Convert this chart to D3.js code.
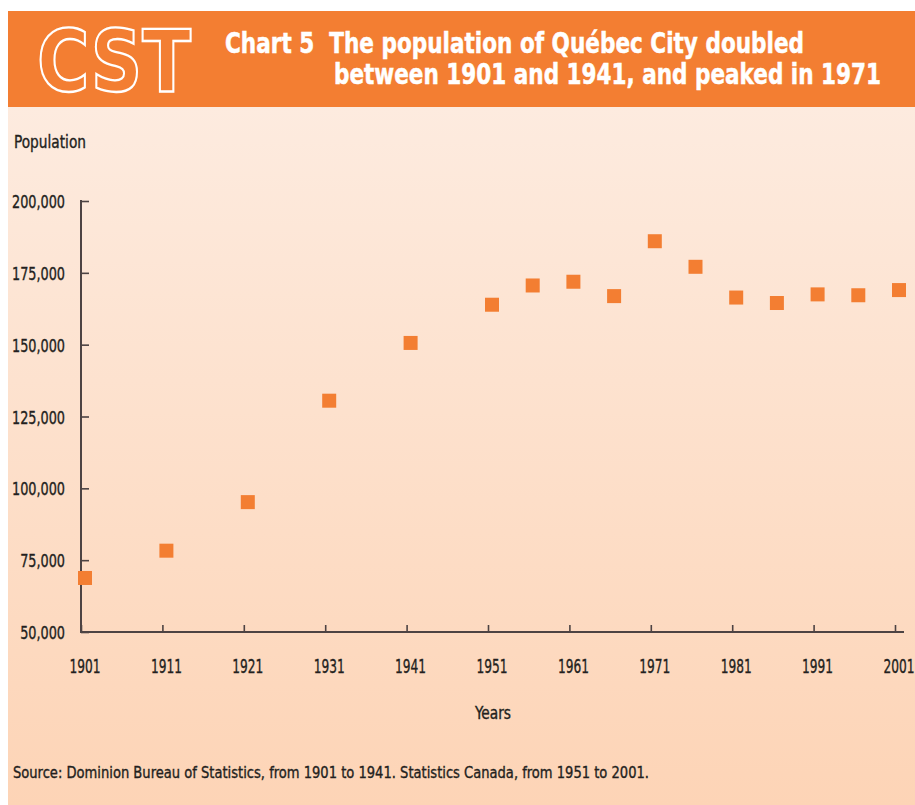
<!DOCTYPE html>
<html>
<head>
<meta charset="utf-8">
<script src="https://cdn.jsdelivr.net/npm/d3@7"></script>
<style>
	body { margin: 0; background: #fff; }
	svg text { font-family: "DejaVu Sans Condensed", "DejaVu Sans", sans-serif; fill: #231f20; }
	svg text.lab { stroke: #231f20; stroke-width: 0.35; }
</style>
</head>
<body>
<script>
const years = [1901, 1911, 1921, 1931, 1941, 1951, 1956, 1961, 1966, 1971, 1976, 1981, 1986, 1991, 1996, 2001];
const population = [68800, 78300, 95200, 130500, 150600, 163900, 170600, 171900, 166900, 186000, 177100, 166400, 164500, 167500, 167200, 169000];
const yTicks = [50000, 75000, 100000, 125000, 150000, 175000, 200000];
const xTicks = [1901, 1911, 1921, 1931, 1941, 1951, 1961, 1971, 1981, 1991, 2001];
const titleLines = ["Chart 5  The population of Québec City doubled", "between 1901 and 1941, and peaked in 1971"];
const sourceText = "Source: Dominion Bureau of Statistics, from 1901 to 1941. Statistics Canada, from 1951 to 2001.";

const W = 915, H = 805,
	orange = '#f37e32',
	axisColor = '#4d4343',
	markSize = 14,
	markShift = 4;

let svg = d3.select('body').append('svg')
	.attr('width', W)
	.attr('height', H);

// squeeze a text selection horizontally so the widest item hits `width`
function condense(sel, width) {
	let natural = 0;
	sel.each(function() { natural = Math.max(natural, this.getComputedTextLength()) });
	let k = width / natural;
	sel.each(function() {
		d3.select(this)
			.attr('textLength', this.getComputedTextLength() * k)
			.attr('lengthAdjust', 'spacingAndGlyphs');
	});
}

let defs = svg.append('defs');
let grad = defs.append('linearGradient')
	.attr('id', 'bg')
	.attr('x1', 0).attr('y1', 0).attr('x2', 0).attr('y2', 1);
grad.append('stop').attr('offset', '0%').attr('stop-color', '#fdebdf');
grad.append('stop').attr('offset', '100%').attr('stop-color', '#fdd4b6');

// panel + header
svg.append('rect')
	.attr('x', 8).attr('y', 107)
	.attr('width', W - 8).attr('height', H - 107)
	.attr('fill', 'url(#bg)');
svg.append('rect')
	.attr('x', 8).attr('y', 11)
	.attr('width', W - 8).attr('height', 96)
	.attr('fill', orange);

let logo = svg.append('text')
	.attr('x', 37).attr('y', 91)
	.attr('font-size', 86)
	.attr('font-weight', 'bold')
	.style('font-family', '"DejaVu Sans", sans-serif')
	.style('fill', orange)
	.style('stroke', '#fff')
	.style('stroke-width', 2.4)
	.text('CST');
condense(logo, 154);

let t1 = svg.append('text')
	.attr('x', 225).attr('y', 53)
	.attr('font-size', 29)
	.attr('font-weight', 'bold')
	.style('fill', '#fff')
	.style('stroke', '#fff')
	.style('stroke-width', 0.5)
	.style('white-space', 'pre')
	.text(titleLines[0]);
condense(t1, 579);
let t2 = svg.append('text')
	.attr('x', 334).attr('y', 84)
	.attr('font-size', 29)
	.attr('font-weight', 'bold')
	.style('fill', '#fff')
	.style('stroke', '#fff')
	.style('stroke-width', 0.5)
	.text(titleLines[1]);
condense(t2, 547);

// scales
let x = d3.scaleLinear().domain([1901, 2001]).range([81, 895]);
let y = d3.scaleLinear().domain([50000, 200000]).range([632, 201]);

let chart = svg.append('g');

let yAxis = chart.append('g')
	.attr('transform', 'translate(81,0)')
	.call(d3.axisRight(y).tickValues(yTicks).tickSize(8).tickFormat(''));
let xAxis = chart.append('g')
	.attr('transform', 'translate(0,632)')
	.call(d3.axisTop(x).tickValues(xTicks).tickSize(7).tickFormat(''));

[xAxis, yAxis].forEach(a => {
	a.select('.domain').attr('stroke', axisColor).attr('stroke-width', 2);
	a.selectAll('.tick line').attr('stroke', axisColor).attr('stroke-width', 1.6);
});
xAxis.select('.domain').attr('d', 'M80,0H' + (x(2001) + 9));
yAxis.select('.domain').attr('d', 'M0,' + (y(200000) - 1) + 'V' + 633);

let ylab = chart.selectAll('text.ylab')
	.data(yTicks)
	.enter().append('text')
	.attr('class', 'ylab lab')
	.attr('x', 65)
	.attr('y', d => y(d) + 7)
	.attr('text-anchor', 'end')
	.attr('font-size', 18)
	.text(d3.format(','));
condense(ylab, 53);

let xlab = chart.selectAll('text.xlab')
	.data(xTicks)
	.enter().append('text')
	.attr('class', 'xlab lab')
	.attr('x', d => x(d) + markShift)
	.attr('y', 673)
	.attr('text-anchor', 'middle')
	.attr('font-size', 20)
	.text(d => d);
condense(xlab, 31);

let popLab = chart.append('text')
	.attr('class', 'lab')
	.attr('x', 14).attr('y', 148)
	.attr('font-size', 17)
	.text('Population');
condense(popLab, 72);
let yrLab = chart.append('text')
	.attr('class', 'lab')
	.attr('x', 475).attr('y', 719)
	.attr('font-size', 17)
	.text('Years');
condense(yrLab, 36);

// points
chart.selectAll('rect.pt')
	.data(years)
	.enter().append('rect')
	.attr('class', 'pt')
	.attr('x', (d, i) => x(d) + markShift - markSize / 2)
	.attr('y', (d, i) => y(population[i]) - markSize / 2)
	.attr('width', markSize)
	.attr('height', markSize)
	.attr('fill', orange);

let src = svg.append('text')
	.attr('class', 'lab')
	.attr('x', 13).attr('y', 778)
	.attr('font-size', 16)
	.text(sourceText);
condense(src, 636);
</script>
</body>
</html>
